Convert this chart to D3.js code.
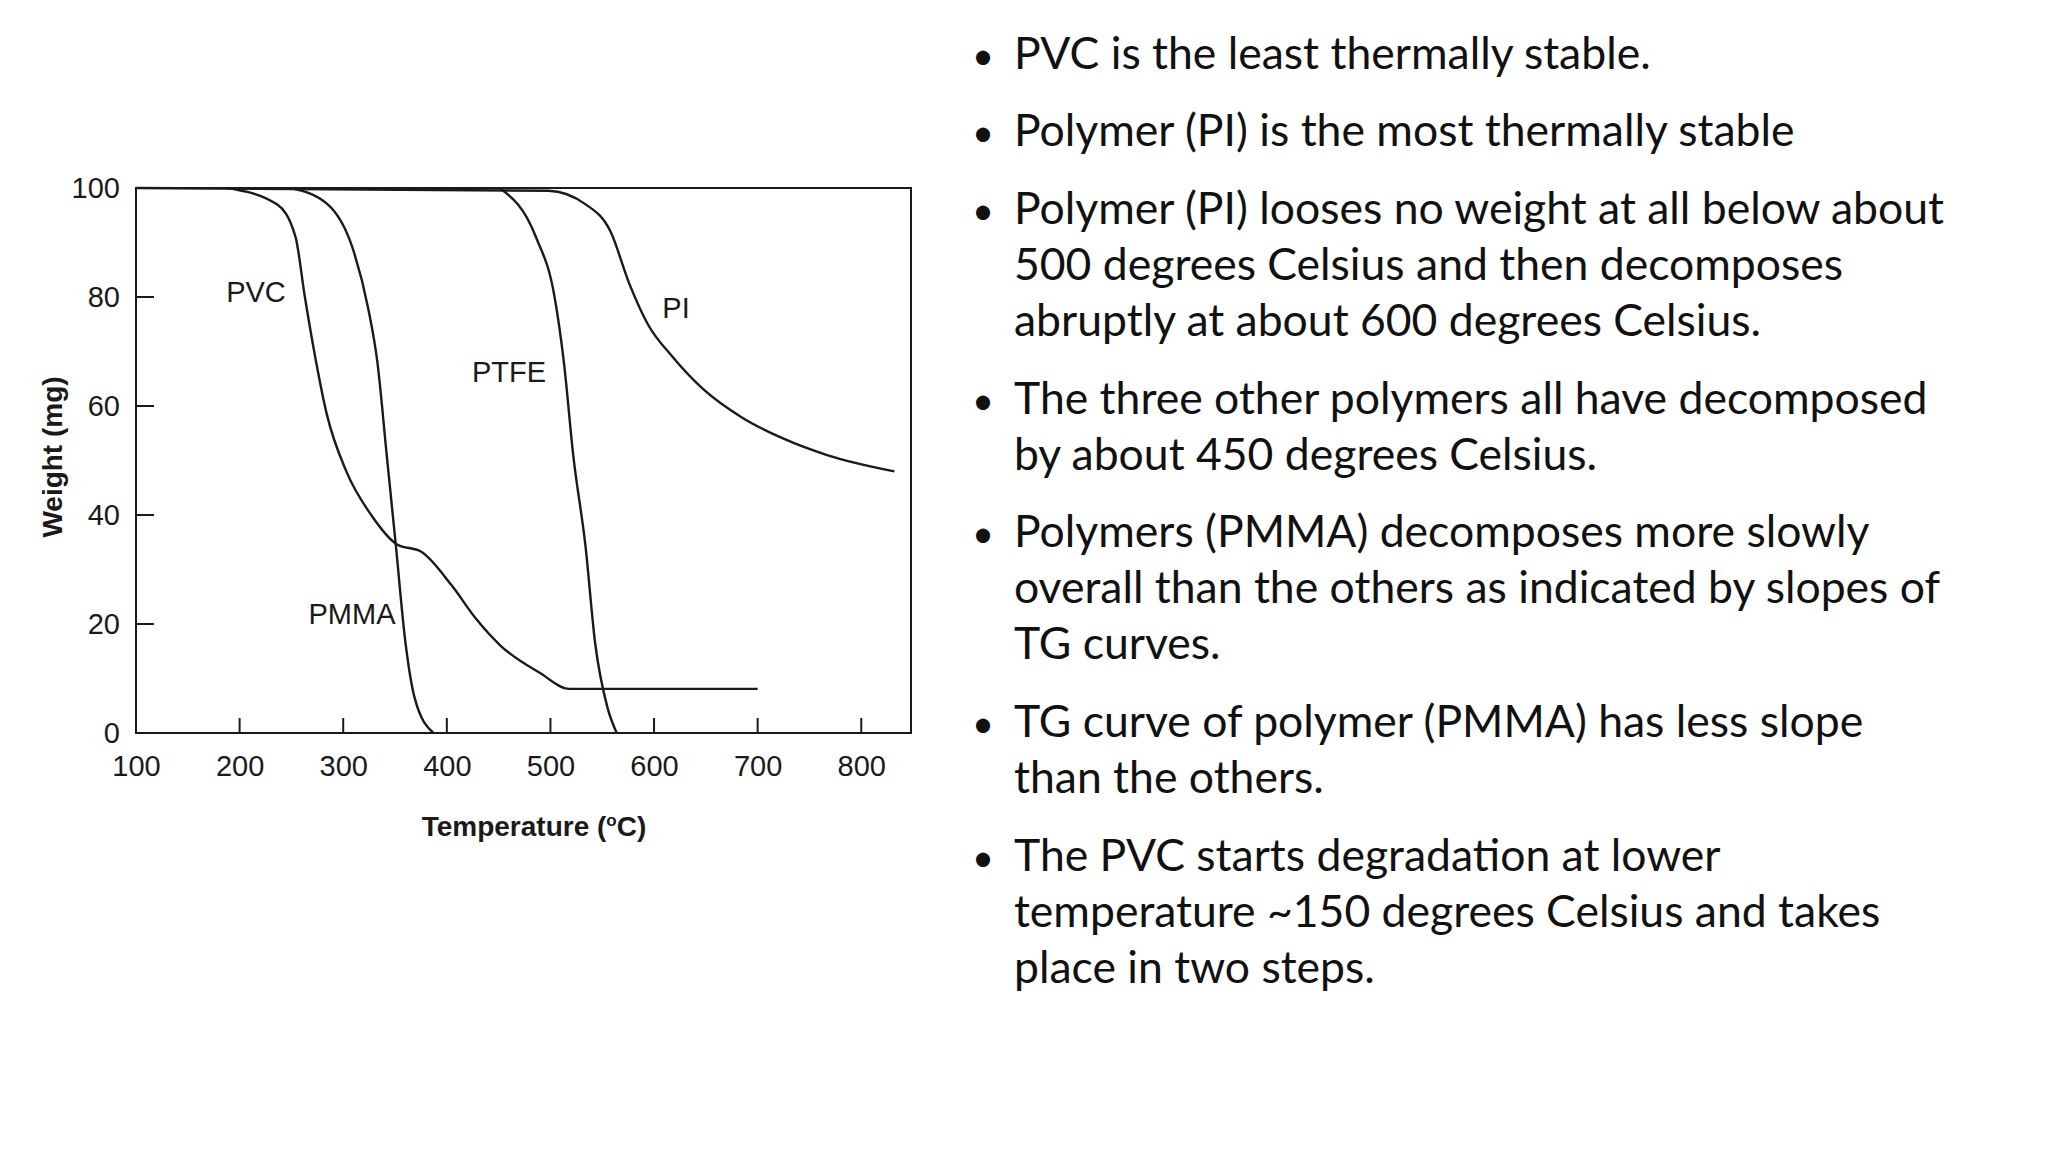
<!DOCTYPE html>
<html><head><meta charset="utf-8">
<script src="https://cdn.jsdelivr.net/npm/d3@7"></script>
<style>body{margin:0;background:#fff}</style></head>
<body><svg id="c" width="2048" height="1152"></svg>
<script>
const xTicks=[100,200,300,400,500,600,700,800];
const yTicks=[0,20,40,60,80,100];
const pvc=[[188,100],[236,97],[254,91],[263,80],[272,70],[284,58.6],[303,48],[327,40],[352,34.6],[375,33.3],[405,27],[428,21],[452,16],[490,11],[518,8.1],[700,8.1]];
const pmma=[[249,100],[285,97],[309,89],[324,78],[333,68],[342,51],[351,34],[360,16.7],[369,6.4],[387,0]];
const ptfe=[[451,100],[486,91],[504,80],[513,68],[522,51],[534,34],[543,16.7],[555,4.7],[564,0]];
const pi=[[100,100],[498,99.5],[534,97],[558,92],[576,82.5],[594,75],[618,69],[648,63],[684,58],[725,54],[767,51],[832,48]];
const labels=[["PVC",256,294],["PMMA",352,616],["PTFE",509,374],["PI",676,310]];
const bullets=[["PVC is the least thermally stable."],["Polymer (PI) is the most thermally stable"],["Polymer (PI) looses no weight at all below about","500 degrees Celsius and then decomposes","abruptly at about 600 degrees Celsius."],["The three other polymers all have decomposed","by about 450 degrees Celsius."],["Polymers (PMMA) decomposes more slowly","overall than the others as indicated by slopes of","TG curves."],["TG curve of polymer (PMMA) has less slope","than the others."],["The PVC starts degradation at lower","temperature ~150 degrees Celsius and takes","place in two steps."]];

const svg=d3.select("#c");
const x=d3.scaleLinear().domain([100,848]).range([136,911]);
const y=d3.scaleLinear().domain([0,100]).range([733,188]);
const col="#1a1a1a", f="'Liberation Sans',Arial,sans-serif";
svg.append("rect").attr("x",x(100)).attr("y",y(100)).attr("width",x(848)-x(100)).attr("height",y(0)-y(100)).attr("fill","none").attr("stroke",col).attr("stroke-width",2);
const yg=svg.append("g").attr("transform",`translate(${x(100)},0)`).call(d3.axisLeft(y).tickValues(yTicks).tickSize(0).tickPadding(16));
yg.select(".domain").remove();
yg.selectAll("text").attr("font-family",f).attr("font-size",29).attr("fill",col);
svg.selectAll(".yt").data(yTicks.filter(d=>d>0&&d<100)).join("line").attr("x1",x(100)).attr("x2",x(100)+18).attr("y1",d=>y(d)).attr("y2",d=>y(d)).attr("stroke",col).attr("stroke-width",2);
const xg=svg.append("g").attr("transform",`translate(0,${y(0)})`).call(d3.axisBottom(x).tickValues(xTicks).tickSize(0).tickPadding(22));
xg.select(".domain").remove();
xg.selectAll("text").attr("font-family",f).attr("font-size",29).attr("fill",col);
svg.selectAll(".xt").data(xTicks.slice(1)).join("line").attr("x1",d=>x(d)).attr("x2",d=>x(d)).attr("y1",y(0)).attr("y2",y(0)-15).attr("stroke",col).attr("stroke-width",2);
const line=d3.line().x(d=>x(d[0])).y(d=>y(d[1])).curve(d3.curveMonotoneX);
[pvc,pmma,ptfe,pi].forEach(s=>svg.append("path").attr("d",line(s)).attr("fill","none").attr("stroke",col).attr("stroke-width",2.4));
labels.forEach(l=>svg.append("text").attr("x",l[1]).attr("y",l[2]).attr("text-anchor","middle").attr("dominant-baseline","middle").attr("font-family",f).attr("font-size",29).attr("fill",col).text(l[0]));
svg.append("text").attr("transform","translate(62,457) rotate(-90)").attr("text-anchor","middle").attr("font-family",f).attr("font-weight","bold").attr("font-size",28).attr("fill",col).text("Weight (mg)");
const xt=svg.append("text").attr("x",534).attr("y",836).attr("text-anchor","middle").attr("font-family",f).attr("font-weight","bold").attr("font-size",28).attr("fill",col);
xt.append("tspan").text("Temperature (");
xt.append("tspan").attr("font-size",17).attr("dy",-10).text("o");
xt.append("tspan").attr("dy",10).text("C)");
const base=[69,146,224,414,547,737,871];
bullets.forEach((b,i)=>{
 svg.append("text").attr("x",972).attr("y",base[i]).attr("font-family","Lato,sans-serif").attr("font-size",38).attr("fill","#111").text("•");
 b.forEach((t,j)=>svg.append("text").attr("x",1014).attr("y",base[i]+j*56).attr("font-family","Lato,sans-serif").attr("font-size",44.5).attr("fill","#111").text(t));
});
</script></body></html>
